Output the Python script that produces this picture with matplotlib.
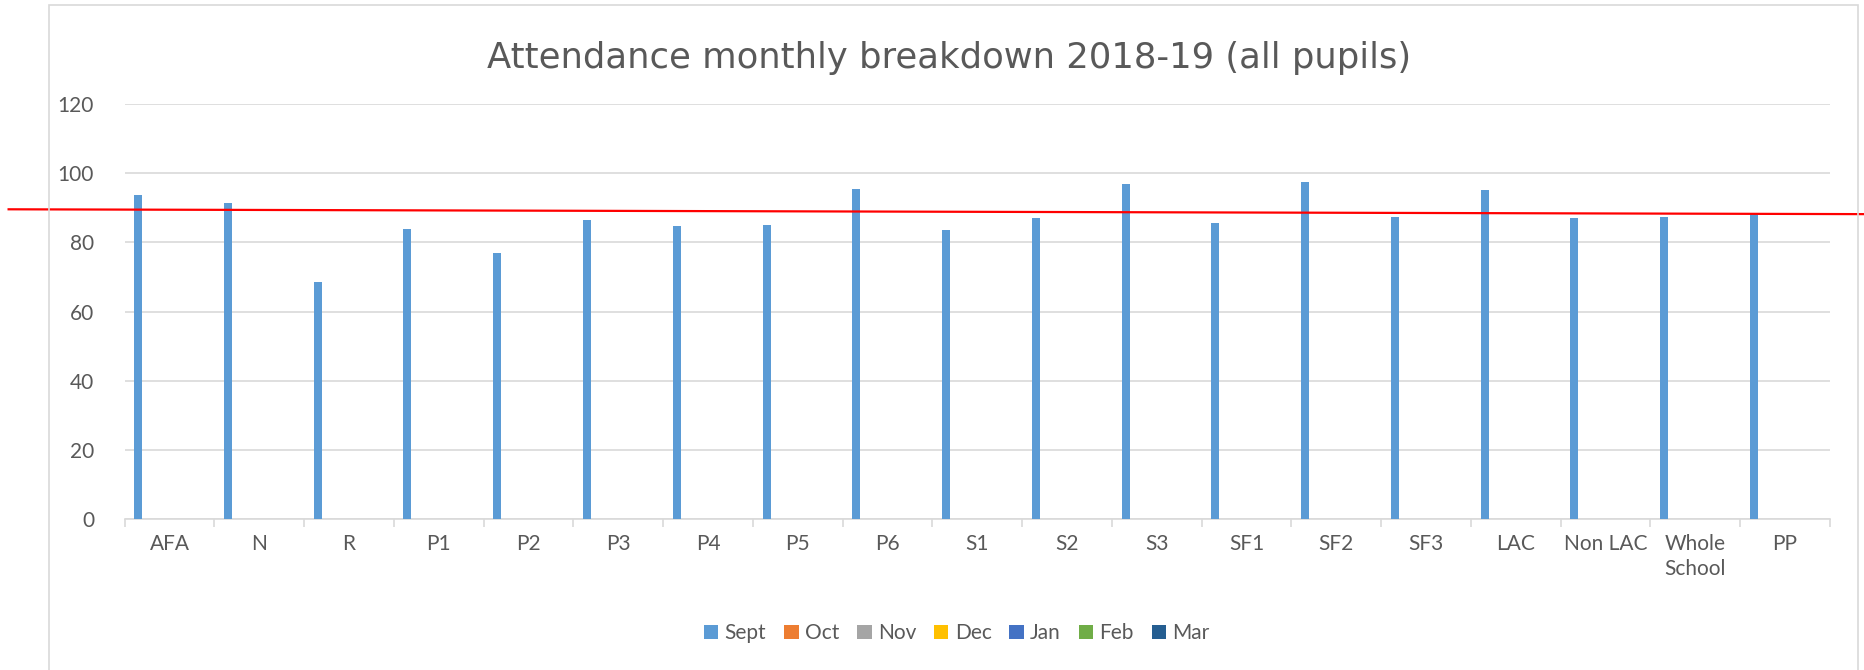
import matplotlib
matplotlib.use("Agg")
import matplotlib.pyplot as plt
import matplotlib.transforms as mtransforms
from matplotlib.patches import Rectangle, Patch

# categories along the x axis
groups = ["AFA", "N", "R", "P1", "P2", "P3", "P4", "P5", "P6", "S1", "S2", "S3",
          "SF1", "SF2", "SF3", "LAC", "Non LAC", "Whole\nSchool", "PP"]

# months in the legend, only Sept has figures so far
months = ["Sept", "Oct", "Nov", "Dec", "Jan", "Feb", "Mar"]
month_colours = ["#5B9BD5", "#ED7D31", "#A5A5A5", "#FFC000", "#4472C4", "#70AD47", "#255E91"]

sept = [93.7, 91.5, 68.5, 83.8, 77.0, 86.4, 84.8, 85.1, 95.6, 83.6, 87.0, 96.8,
        85.6, 97.6, 87.3, 95.3, 87.2, 87.5, 88.3]
oct_ = []
nov = []
dec = []
jan = []
feb = []
mar = []
month_values = [sept, oct_, nov, dec, jan, feb, mar]

# the red target line drawn across the chart (left end, right end)
target_line = [89.6, 88.2]

grey_txt = "#595959"
grid_col = "#D9D9D9"
plt.rcParams['font.family'] = ['Lato', 'DejaVu Sans']

fig = plt.figure(figsize=(18.65, 6.7), dpi=100)
ax = fig.add_axes([0.0668, 0.2258, 0.9144, 0.6185])

# excel chart area border
fig.patches.append(Rectangle((49 / 1865, -0.1), (1858 - 49) / 1865, 1.1 - 5 / 670,
                             transform=fig.transFigure, fill=False,
                             edgecolor=grid_col, lw=1.2))

slot = 0.116
bar_w = 0.089
x = list(range(len(groups)))
for j, (m, vals, c) in enumerate(zip(months, month_values, month_colours)):
    if len(vals) == 0:
        continue
    xs = [i + (j - 3) * slot for i in x[:len(vals)]]
    ax.bar(xs, vals, width=bar_w, color=c, zorder=3)

# red target line runs past both ends of the plot area
trans = mtransforms.blended_transform_factory(ax.transAxes, ax.transData)
ax.plot([-0.068, 1.0205], target_line, color="#FF0000", lw=1.6,
        transform=trans, clip_on=False, zorder=5)

ax.set_ylim(0, 120)
ax.set_yticks(range(0, 121, 20))
ax.set_xlim(-0.5, len(groups) - 0.5)
ax.set_xticks(x)
ax.set_xticklabels(groups, fontsize=15, color=grey_txt, linespacing=1.3)
ax.set_xticks([i - 0.5 for i in range(len(groups) + 1)], minor=True)
ax.tick_params(axis='x', which='major', length=0, pad=11)
ax.tick_params(axis='x', which='minor', length=6, color=grid_col, width=1.2)
ax.tick_params(axis='y', length=0, labelsize=15, labelcolor=grey_txt, pad=22)

ax.grid(axis='y', color=grid_col, lw=1.2, zorder=0)
for s in ["top", "right", "left"]:
    ax.spines[s].set_visible(False)
ax.spines["bottom"].set_color(grid_col)
ax.spines["bottom"].set_linewidth(1.2)

fig.text(0.509, (670 - 68.3) / 670, "Attendance monthly breakdown 2018-19 (all pupils)",
         ha="center", va="baseline", fontsize=25.5, color=grey_txt,
         family=["DejaVu Sans"])

handles = [Patch(facecolor=c, label=m) for m, c in zip(months, month_colours)]
ax.legend(handles=handles, loc="center", bbox_to_anchor=(0.513, 0.055),
          bbox_transform=fig.transFigure, ncol=7, frameon=False, fontsize=15,
          labelcolor=grey_txt, handlelength=0.7, handleheight=0.7,
          handletextpad=0.3, columnspacing=0.85)

fig.savefig("out.png", dpi=100)
